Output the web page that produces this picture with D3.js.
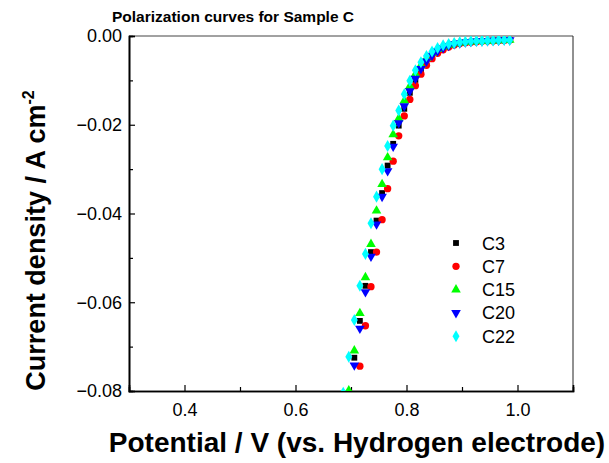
<!DOCTYPE html>
<html>
<head>
<meta charset="utf-8">
<script src="https://cdn.jsdelivr.net/npm/d3@7"></script>
<style>
    body { margin: 0; background: #fff; }
    #chart { width: 609px; height: 463px; }
    text { font-family: "Liberation Sans", Arial, sans-serif; fill: #000; }
    .tickLabel { font-size: 18px; }
    .legendText { font-size: 18px; }
    .chartTitle { font-size: 15.5px; font-weight: bold; }
    .axisTitle { font-size: 27px; font-weight: bold; }
</style>
</head>
<body>
<div id="chart"></div>
<script>
// potential grid (V vs. hydrogen electrode), shared by every sample
var potentials = [0.686, 0.696, 0.706, 0.716, 0.726, 0.736, 0.746, 0.756, 0.766, 0.776,
    0.786, 0.796, 0.806, 0.816, 0.826, 0.836, 0.846, 0.856, 0.866, 0.876,
    0.886, 0.896, 0.906, 0.916, 0.926, 0.936, 0.946, 0.956, 0.966, 0.976, 0.986];

// current density (A cm-2), null = outside the plot
var currentC3 = [null, null, -0.0725, -0.0642, -0.0563, -0.0487, -0.0416, -0.0354, -0.0292, -0.0243,
    -0.0202, -0.0164, -0.0128, -0.0099, -0.0076, -0.0058, -0.0045, -0.0035, -0.0027, -0.0022,
    -0.0018, -0.0016, -0.0014, -0.0013, -0.0012, -0.0011, -0.0011, -0.0010, -0.0010, -0.0009, -0.0009];
var currentC7 = [null, null, null, -0.0744, -0.0653, -0.0565, -0.0487, -0.0414, -0.0344, -0.0282,
    -0.0225, -0.0180, -0.0143, -0.0112, -0.0086, -0.0066, -0.0051, -0.0039, -0.0031, -0.0025,
    -0.0020, -0.0017, -0.0015, -0.0014, -0.0013, -0.0012, -0.0011, -0.0011, -0.0010, -0.0010, -0.0009];
var currentC15 = [null, -0.0799, -0.0709, -0.0625, -0.0544, -0.0469, -0.0394, -0.0334, -0.0274, -0.0222,
    -0.0186, -0.0146, -0.0113, -0.0086, -0.0066, -0.0050, -0.0039, -0.0030, -0.0024, -0.0020,
    -0.0017, -0.0015, -0.0014, -0.0013, -0.0012, -0.0011, -0.0011, -0.0010, -0.0010, -0.0009, -0.0009];
var currentC20 = [null, null, -0.0742, -0.0659, -0.0577, -0.0497, -0.0424, -0.0362, -0.0304, -0.0249,
    -0.0196, -0.0158, -0.0124, -0.0096, -0.0074, -0.0057, -0.0044, -0.0034, -0.0027, -0.0022,
    -0.0018, -0.0016, -0.0014, -0.0013, -0.0012, -0.0011, -0.0011, -0.0010, -0.0010, -0.0009, -0.0009];
var currentC22 = [-0.0804, -0.0723, -0.0640, -0.0563, -0.0491, -0.0422, -0.0362, -0.0300, -0.0248, -0.0202,
    -0.0168, -0.0131, -0.0101, -0.0077, -0.0059, -0.0045, -0.0035, -0.0027, -0.0021, -0.0018,
    -0.0016, -0.0014, -0.0013, -0.0012, -0.0011, -0.0011, -0.0010, -0.0010, -0.0009, -0.0009, -0.0009];

var sampleNames = ["C3", "C7", "C15", "C20", "C22"];
var sampleColors = ["#000000", "#ff0000", "#00ff00", "#0000ff", "#00ffff"];

var xTicks = [0.4, 0.6, 0.8, 1.0];
var xMinorTicks = [0.5, 0.7, 0.9];
var yTicks = [0.00, -0.02, -0.04, -0.06, -0.08];
var yMinorTicks = [-0.01, -0.03, -0.05, -0.07];

/**
 * Constructor for the polarization chart
 */
function PolarizationChart(){
    var self = this;
    self.init();
};

/**
 * Sets up the svg, scales and the clip area
 */
PolarizationChart.prototype.init = function(){
    var self = this;
    self.box = {left: 129, right: 573, top: 36, bottom: 391};

    self.svg = d3.select("#chart").append("svg")
        .attr("width", 609)
        .attr("height", 463);

    self.xScale = d3.scaleLinear().domain([0.3, 1.1]).range([self.box.left, self.box.right]);
    self.yScale = d3.scaleLinear().domain([-0.08, 0]).range([self.box.bottom, self.box.top]);

    self.svg.append("clipPath").attr("id", "plotClip")
        .append("rect")
        .attr("x", self.box.left)
        .attr("y", self.box.top)
        .attr("width", self.box.right - self.box.left)
        .attr("height", self.box.bottom - self.box.top);
};

/**
 * Returns the marker path for a sample (Origin style symbols)
 */
PolarizationChart.prototype.markerPath = function(i){
    if (i == 0) return d3.symbol().type(d3.symbolSquare).size(34)();
    if (i == 1) return d3.symbol().type(d3.symbolCircle).size(42)();
    if (i == 2) return d3.symbol().type(d3.symbolTriangle).size(40)();
    if (i == 3) return d3.symbol().type(d3.symbolTriangle).size(40)();
    return d3.symbol().type(d3.symbolDiamond).size(42)();
};

PolarizationChart.prototype.markerTransform = function(i, x, y){
    // down triangle is the up one turned round
    return "translate(" + x + "," + y + ")" + (i == 3 ? " rotate(180)" : "");
};

/**
 * Draws axes, markers, legend and titles
 */
PolarizationChart.prototype.update = function(series){
    var self = this;
    var x = self.xScale, y = self.yScale;

    // axes with inward ticks
    var xAxis = d3.axisBottom(x).tickValues(xTicks).tickSize(-6).tickPadding(12)
        .tickFormat(d3.format(".1f"));
    var xMinor = d3.axisBottom(x).tickValues(xMinorTicks).tickSize(-4).tickFormat("");
    var yAxis = d3.axisLeft(y).tickValues(yTicks).tickSize(-6).tickPadding(7)
        .tickFormat(d3.format(".2f"));
    var yMinor = d3.axisLeft(y).tickValues(yMinorTicks).tickSize(-4).tickFormat("");

    // frame: top and right thin
    self.svg.append("line")
        .attr("x1", self.box.left).attr("x2", self.box.right)
        .attr("y1", self.box.top).attr("y2", self.box.top)
        .style("stroke", "#444").style("stroke-width", 1);
    self.svg.append("line")
        .attr("x1", self.box.right).attr("x2", self.box.right)
        .attr("y1", self.box.top).attr("y2", self.box.bottom)
        .style("stroke", "#222").style("stroke-width", 1);

    [xAxis, xMinor].forEach(function(ax){
        self.svg.append("g")
            .attr("transform", "translate(0," + self.box.bottom + ")")
            .call(ax);
    });
    [yAxis, yMinor].forEach(function(ax){
        self.svg.append("g")
            .attr("transform", "translate(" + self.box.left + ",0)")
            .call(ax);
    });
    self.svg.selectAll(".domain").style("stroke", "#000").style("stroke-width", 1.6);
    self.svg.selectAll(".tick line").style("stroke", "#000").style("stroke-width", 1.2);
    self.svg.selectAll(".tick text")
        .attr("class", "tickLabel")
        .style("font-family", "Liberation Sans, Arial, sans-serif")
        .style("font-size", "18px");

    // markers
    var plot = self.svg.append("g").attr("clip-path", "url(#plotClip)");
    series.forEach(function(s, i){
        var pts = potentials.map(function(p, k){ return {v: p, j: s[k]}; })
            .filter(function(d){ return d.j !== null; });
        plot.append("g").selectAll("path")
            .data(pts)
            .enter()
            .append("path")
            .attr("d", self.markerPath(i))
            .attr("transform", function(d){ return self.markerTransform(i, x(d.v), y(d.j)); })
            .style("fill", sampleColors[i]);
    });

    // legend
    var legend = self.svg.append("g");
    sampleNames.forEach(function(name, i){
        var ly = 243 + i * 23.3;
        legend.append("path")
            .attr("d", self.markerPath(i))
            .attr("transform", self.markerTransform(i, 456, ly))
            .style("fill", sampleColors[i]);
        legend.append("text")
            .attr("class", "legendText")
            .attr("x", 482)
            .attr("y", ly + 6.5)
            .text(name);
    });

    // titles
    self.svg.append("text")
        .attr("class", "chartTitle")
        .attr("x", 112)
        .attr("y", 22)
        .text("Polarization curves for Sample C");

    self.svg.append("text")
        .attr("class", "axisTitle")
        .attr("x", 357)
        .attr("y", 452)
        .attr("text-anchor", "middle")
        .style("font-size", "28px")
        .text("Potential / V (vs. Hydrogen electrode)");

    var yTitle = self.svg.append("text")
        .attr("class", "axisTitle")
        .attr("transform", "translate(45," + ((88 + 393) / 2) + ") rotate(-90)")
        .attr("text-anchor", "middle");
    yTitle.append("tspan").text("Current density / A cm");
    yTitle.append("tspan")
        .attr("dy", -11)
        .style("font-size", "16px")
        .text("-2");
};

var chart = new PolarizationChart();
chart.update([currentC3, currentC7, currentC15, currentC20, currentC22]);
</script>
</body>
</html>
